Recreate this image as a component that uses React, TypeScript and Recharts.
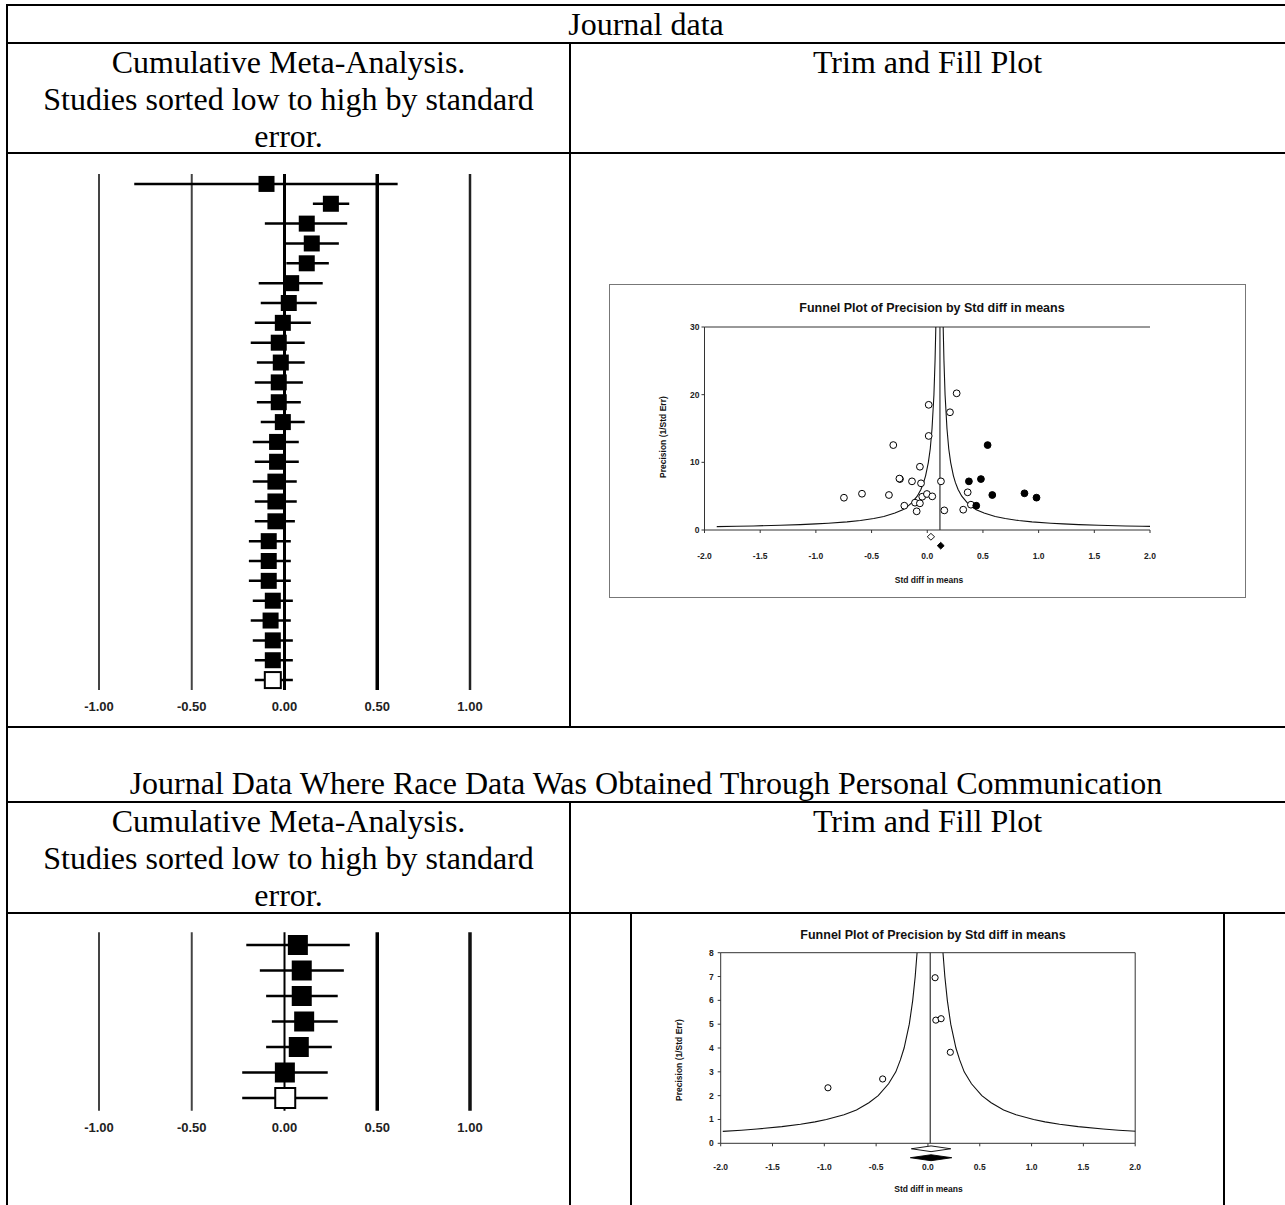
import React from 'react';
import { ScatterChart, Scatter, XAxis, YAxis, ReferenceLine, ReferenceArea, ErrorBar } from 'recharts';

// ---------- Cumulative meta-analysis: journal data (26 cumulative rows, last = summary) ----------
const forest1Est = [-0.097, 0.25, 0.12, 0.147, 0.12, 0.036, 0.023, -0.009, -0.031, -0.02, -0.031, -0.031, -0.009, -0.04, -0.04, -0.049, -0.049, -0.049, -0.085, -0.085, -0.085, -0.063, -0.075, -0.063, -0.063, -0.063];
const forest1Low = [-0.81, 0.153, -0.106, 0.005, 0.01, -0.139, -0.128, -0.16, -0.182, -0.149, -0.16, -0.149, -0.128, -0.171, -0.16, -0.171, -0.16, -0.16, -0.192, -0.192, -0.192, -0.171, -0.182, -0.171, -0.16, -0.16];
const forest1High = [0.61, 0.349, 0.338, 0.293, 0.239, 0.206, 0.174, 0.142, 0.109, 0.109, 0.099, 0.088, 0.109, 0.077, 0.077, 0.066, 0.066, 0.056, 0.034, 0.034, 0.034, 0.045, 0.034, 0.045, 0.045, 0.045];

// ---------- Cumulative meta-analysis: personal communication (7 rows, last = summary) ----------
const forest2Est = [0.072, 0.093, 0.093, 0.106, 0.077, 0.002, 0.004];
const forest2Low = [-0.206, -0.133, -0.099, -0.068, -0.099, -0.228, -0.228];
const forest2High = [0.352, 0.32, 0.287, 0.287, 0.255, 0.233, 0.233];

const forestTicks = [-1, -0.5, 0, 0.5, 1];
const forestTickLabels = ['-1.00', '-0.50', '0.00', '0.50', '1.00'];

// ---------- Funnel plot 1 (journal data) ----------
const funnel1ObservedX = [0.264, 0.013, 0.204, 0.013, -0.305, -0.066, -0.245, -0.25, -0.137, -0.056, 0.123, 0.363, -0.748, -0.586, -0.344, -0.045, -0.003, 0.045, -0.206, -0.11, -0.066, -0.095, 0.153, 0.323, 0.392];
const funnel1ObservedP = [20.2, 18.5, 17.4, 13.9, 12.55, 9.35, 7.53, 7.6, 7.19, 6.9, 7.19, 5.57, 4.77, 5.36, 5.17, 4.92, 5.32, 4.97, 3.59, 4.04, 3.94, 2.76, 2.9, 3.0, 3.74];
const funnel1ImputedX = [0.542, 0.482, 0.374, 0.584, 0.44, 0.873, 0.981];
const funnel1ImputedP = [12.55, 7.53, 7.19, 5.17, 3.59, 5.42, 4.78];
const funnel1Center = 0.114;
const funnel1CurveP = [0.5, 0.55, 0.6, 0.7, 0.8, 0.9, 1, 1.2, 1.4, 1.7, 2, 2.5, 3, 3.5, 4, 5, 6, 7, 8, 10, 12, 15, 20, 25, 30];
const funnel1CurveLeft = [-1.89, -1.71, -1.56, -1.32, -1.14, -1.0, -0.89, -0.72, -0.6, -0.48, -0.39, -0.29, -0.22, -0.176, -0.14, -0.09, -0.057, -0.033, -0.015, 0.01, 0.027, 0.043, 0.06, 0.07, 0.077];
const funnel1CurveRight = [2.11, 1.93, 1.78, 1.54, 1.36, 1.22, 1.11, 0.94, 0.82, 0.7, 0.61, 0.51, 0.44, 0.396, 0.36, 0.31, 0.277, 0.253, 0.235, 0.21, 0.193, 0.177, 0.16, 0.15, 0.143];
const funnel1ObservedCI = [0.0, 0.066];
const funnel1AdjustedCI = [0.09, 0.152];
const funnel1YTicks = [0, 10, 20, 30];

// ---------- Funnel plot 2 (personal communication) ----------
const funnel2ObservedX = [0.069, 0.076, 0.127, 0.216, -0.437, -0.965];
const funnel2ObservedP = [6.95, 5.17, 5.23, 3.82, 2.7, 2.33];
const funnel2Center = 0.022;
const funnel2CurveP = [0.5, 0.55, 0.6, 0.7, 0.8, 0.9, 1, 1.2, 1.4, 1.7, 2, 2.5, 3, 3.5, 4, 5, 6, 7, 8];
const funnel2CurveLeft = [-1.98, -1.8, -1.65, -1.41, -1.23, -1.09, -0.98, -0.81, -0.69, -0.57, -0.48, -0.38, -0.31, -0.266, -0.23, -0.18, -0.147, -0.123, -0.105];
const funnel2CurveRight = [2.02, 1.84, 1.69, 1.45, 1.27, 1.13, 1.02, 0.85, 0.73, 0.61, 0.52, 0.42, 0.35, 0.306, 0.27, 0.22, 0.187, 0.163, 0.145];
const funnel2ObservedCI = [-0.16, 0.22];
const funnel2AdjustedCI = [-0.17, 0.23];
const funnel2YTicks = [0, 1, 2, 3, 4, 5, 6, 7, 8];

const funnelXTicks = [-2, -1.5, -1, -0.5, 0, 0.5, 1, 1.5, 2];

const SANS = '"Liberation Sans", Arial, Helvetica, sans-serif';
const SERIF = '"Liberation Serif", "Times New Roman", Times, serif';

const zip = (xs: number[], ys: number[]) => xs.map((x, i) => ({ x, y: ys[i] }));

const NoShape = () => <g />;
const circleShape = (r: number, fill: string) => (p: any) =>
  p.cx == null ? <g /> : <circle cx={p.cx} cy={p.cy} r={r} fill={fill} stroke="#000" strokeWidth={1} />;
const squareShape = (size: number) => (p: any) => {
  if (p.cx == null) return <g />;
  const open = p.payload && p.payload.open;
  return (
    <rect
      x={p.cx - size / 2}
      y={p.cy - size / 2}
      width={size}
      height={size}
      fill={open ? '#fff' : '#000'}
      stroke="#000"
      strokeWidth={open ? 2 : 0}
    />
  );
};
const diamondShape = (fill: string) => (p: any) => {
  const { x, y, width, height } = p;
  if (x == null) return <g />;
  const pts = `${x},${y + height / 2} ${x + width / 2},${y} ${x + width},${y + height / 2} ${x + width / 2},${y + height}`;
  return <polygon points={pts} fill={fill} stroke="#000" strokeWidth={0.9} />;
};

type ForestProps = {
  est: number[]; low: number[]; high: number[];
  left: number; top: number; width: number; height: number;
  marginTop: number; xAxisH: number; square: number;
  lines: { x: number; c: string; w: number }[];
};

function Forest(props: ForestProps) {
  const { est, low, high, left, top, width, height, marginTop, xAxisH, square, lines } = props;
  const data = est.map((e, i) => ({ x: e, y: i + 1, err: [e - low[i], high[i] - e], open: i === est.length - 1 }));
  return (
    <div style={{ position: 'absolute', left, top }}>
      <ScatterChart width={width} height={height} margin={{ top: marginTop, right: 30, left: 39, bottom: 0 }}>
        <XAxis
          type="number" dataKey="x" domain={[-1, 1]} ticks={forestTicks} interval={0}
          tickFormatter={(v: number) => forestTickLabels[forestTicks.indexOf(v)]}
          axisLine={false} tickLine={false} tickSize={6} tickMargin={6} height={xAxisH}
          tick={{ fontSize: 13, fontWeight: 700, fill: '#222', fontFamily: SANS }}
        />
        <YAxis type="number" dataKey="y" domain={[0.5, est.length + 0.5]} reversed hide width={0} />
        {lines.map((l) => (
          <ReferenceLine key={l.x} x={l.x} stroke={l.c} strokeWidth={l.w} ifOverflow="visible" />
        ))}
        <Scatter data={data} shape={squareShape(square)} isAnimationActive={false}>
          <ErrorBar dataKey="err" direction="x" width={0} stroke="#000" strokeWidth={2.5} />
        </Scatter>
      </ScatterChart>
    </div>
  );
}

type FunnelProps = {
  left: number; top: number; width: number; height: number;
  marginTop: number; marginRight: number; yAxisW: number; xAxisH: number;
  yMax: number; yTicks: number[]; xTickMargin: number; yTickMargin: number;
  observed: { x: number; y: number }[]; imputed?: { x: number; y: number }[];
  curveP: number[]; curveL: number[]; curveR: number[]; center: number;
  obsCI: number[]; adjCI: number[]; obsY: number[]; adjY: number[];
  rightBorder: boolean; r: number;
};

function Funnel(p: FunnelProps) {
  const axisStyle = { stroke: '#333' };
  const tickStyle = { fontSize: 8.5, fontWeight: 700, fill: '#222', fontFamily: SANS };
  return (
    <div style={{ position: 'absolute', left: p.left, top: p.top }}>
      <ScatterChart width={p.width} height={p.height} margin={{ top: p.marginTop, right: p.marginRight, left: 0, bottom: 0 }}>
        <XAxis
          type="number" dataKey="x" domain={[-2, 2]} ticks={funnelXTicks} interval={0}
          tickFormatter={(v: number) => v.toFixed(1)} allowDataOverflow height={p.xAxisH}
          tickSize={3} tickMargin={p.xTickMargin} axisLine={axisStyle} tickLine={axisStyle} tick={tickStyle}
        />
        <YAxis
          type="number" dataKey="y" domain={[0, p.yMax]} ticks={p.yTicks} interval={0}
          allowDataOverflow width={p.yAxisW} tickSize={3} tickMargin={p.yTickMargin}
          axisLine={axisStyle} tickLine={axisStyle} tick={tickStyle}
        />
        <ReferenceLine y={p.yMax} stroke="#333" strokeWidth={1} />
        {p.rightBorder && <ReferenceLine x={2} stroke="#333" strokeWidth={1} />}
        <ReferenceLine x={p.center} stroke="#333" strokeWidth={1.2} />
        <Scatter data={zip(p.curveL, p.curveP)} line={{ stroke: '#111', strokeWidth: 1.1 }} shape={NoShape} isAnimationActive={false} />
        <Scatter data={zip(p.curveR, p.curveP)} line={{ stroke: '#111', strokeWidth: 1.1 }} shape={NoShape} isAnimationActive={false} />
        <Scatter data={p.observed} shape={circleShape(p.r, '#fff')} isAnimationActive={false} />
        {p.imputed && <Scatter data={p.imputed} shape={circleShape(p.r, '#000')} isAnimationActive={false} />}
        <ReferenceArea x1={p.obsCI[0]} x2={p.obsCI[1]} y1={p.obsY[0]} y2={p.obsY[1]} ifOverflow="visible" shape={diamondShape('#fff')} />
        <ReferenceArea x1={p.adjCI[0]} x2={p.adjCI[1]} y1={p.adjY[0]} y2={p.adjY[1]} ifOverflow="visible" shape={diamondShape('#000')} />
      </ScatterChart>
    </div>
  );
}

const HLine = ({ y, x1 = 6, x2 = 1285, t = 2 }: { y: number; x1?: number; x2?: number; t?: number }) => (
  <div style={{ position: 'absolute', left: x1, top: y - t / 2, width: x2 - x1, height: t, background: '#000' }} />
);
const VLine = ({ x, y1, y2, t = 2, c = '#000' }: { x: number; y1: number; y2: number; t?: number; c?: string }) => (
  <div style={{ position: 'absolute', left: x - t / 2, top: y1, width: t, height: y2 - y1, background: c }} />
);

const Cell = ({ x1, x2, top, lines }: { x1: number; x2: number; top: number; lines: string[] }) => (
  <div style={{ position: 'absolute', left: x1, top, width: x2 - x1, textAlign: 'center', fontFamily: SERIF, fontSize: 32, lineHeight: '37px', color: '#000', whiteSpace: 'nowrap' }}>
    {lines.map((l, i) => (<div key={i}>{l}</div>))}
  </div>
);

const Label = ({ cx, cy, size, text, rotate = 0 }: { cx: number; cy: number; size: number; text: string; rotate?: number }) => (
  <div style={{
    position: 'absolute', left: cx - 300, top: cy - size * 0.6, width: 600, height: size * 1.2,
    lineHeight: `${size * 1.2}px`, fontSize: size, fontWeight: 700, fontFamily: SANS, color: '#111',
    textAlign: 'center', whiteSpace: 'nowrap', transform: rotate ? `rotate(${rotate}deg)` : undefined, transformOrigin: 'center center',
  }}>{text}</div>
);

export default function App() {
  const forest1Lines = [
    { x: -1, c: '#444', w: 2 }, { x: -0.5, c: '#444', w: 2 }, { x: 0, c: '#000', w: 3 },
    { x: 0.5, c: '#000', w: 3.5 }, { x: 1, c: '#222', w: 2.5 },
  ];
  const forest2Lines = [
    { x: -1, c: '#444', w: 2 }, { x: -0.5, c: '#444', w: 2 }, { x: 0, c: '#000', w: 2 },
    { x: 0.5, c: '#000', w: 3.5 }, { x: 1, c: '#111', w: 3.5 },
  ];
  return (
    <div style={{ position: 'absolute', left: 0, top: 0, width: 1285, height: 1205, background: '#fff', overflow: 'hidden' }}>
      {/* table grid */}
      <HLine y={5} />
      <HLine y={43} />
      <HLine y={153} />
      <HLine y={727} />
      <HLine y={802} />
      <HLine y={913} />
      <VLine x={7} y1={4} y2={1205} />
      <VLine x={570} y1={43} y2={727} />
      <VLine x={570} y1={802} y2={1205} />

      {/* header texts */}
      <Cell x1={7} x2={1285} top={6} lines={['Journal data']} />
      <Cell x1={7} x2={570} top={44} lines={['Cumulative Meta-Analysis.', 'Studies sorted low to high by standard', 'error.']} />
      <Cell x1={570} x2={1285} top={44} lines={['Trim and Fill Plot']} />
      <Cell x1={7} x2={1285} top={765} lines={['Journal Data Where Race Data Was Obtained Through Personal Communication']} />
      <Cell x1={7} x2={570} top={803} lines={['Cumulative Meta-Analysis.', 'Studies sorted low to high by standard', 'error.']} />
      <Cell x1={570} x2={1285} top={803} lines={['Trim and Fill Plot']} />

      {/* forest plots */}
      <Forest est={forest1Est} low={forest1Low} high={forest1High} left={60} top={160} width={440} height={560}
        marginTop={14} xAxisH={30} square={16} lines={forest1Lines} />
      <Forest est={forest2Est} low={forest2Low} high={forest2High} left={60} top={918} width={440} height={225}
        marginTop={14.25} xAxisH={32.25} square={20} lines={forest2Lines} />

      {/* funnel plot 1 */}
      <div style={{ position: 'absolute', left: 609, top: 284, width: 637, height: 314, border: '1px solid #777', boxSizing: 'border-box' }} />
      <Funnel left={610} top={285} width={636} height={313} marginTop={42} marginRight={96} yAxisW={94.5} xAxisH={68}
        yMax={30} yTicks={funnel1YTicks} xTickMargin={20} yTickMargin={2}
        observed={zip(funnel1ObservedX, funnel1ObservedP)} imputed={zip(funnel1ImputedX, funnel1ImputedP)}
        curveP={funnel1CurveP} curveL={funnel1CurveLeft} curveR={funnel1CurveRight} center={funnel1Center}
        obsCI={funnel1ObservedCI} adjCI={funnel1AdjustedCI} obsY={[-1.5, -0.5]} adjY={[-2.82, -1.82]}
        rightBorder={false} r={3.4} />
      <Label cx={932} cy={308} size={12.5} text="Funnel Plot of Precision by Std diff in means" />
      <Label cx={929} cy={580} size={8.5} text="Std diff in means" />
      <Label cx={663} cy={437} size={8.5} text="Precision (1/Std Err)" rotate={-90} />

      {/* funnel plot 2 */}
      <VLine x={631} y1={913} y2={1205} t={1.5} />
      <VLine x={1224} y1={913} y2={1205} t={1.5} />
      <Funnel left={632} top={915} width={592} height={290} marginTop={37.7} marginRight={88.8} yAxisW={88.7} xAxisH={61.7}
        yMax={8} yTicks={funnel2YTicks} xTickMargin={18} yTickMargin={4}
        observed={zip(funnel2ObservedX, funnel2ObservedP)}
        curveP={funnel2CurveP} curveL={funnel2CurveLeft} curveR={funnel2CurveRight} center={funnel2Center}
        obsCI={funnel2ObservedCI} adjCI={funnel2AdjustedCI} obsY={[-0.35, -0.11]} adjY={[-0.73, -0.48]}
        rightBorder={true} r={3.1} />
      <Label cx={933} cy={935} size={12.5} text="Funnel Plot of Precision by Std diff in means" />
      <Label cx={928.5} cy={1189} size={8.5} text="Std diff in means" />
      <Label cx={679} cy={1060} size={8.5} text="Precision (1/Std Err)" rotate={-90} />
    </div>
  );
}
